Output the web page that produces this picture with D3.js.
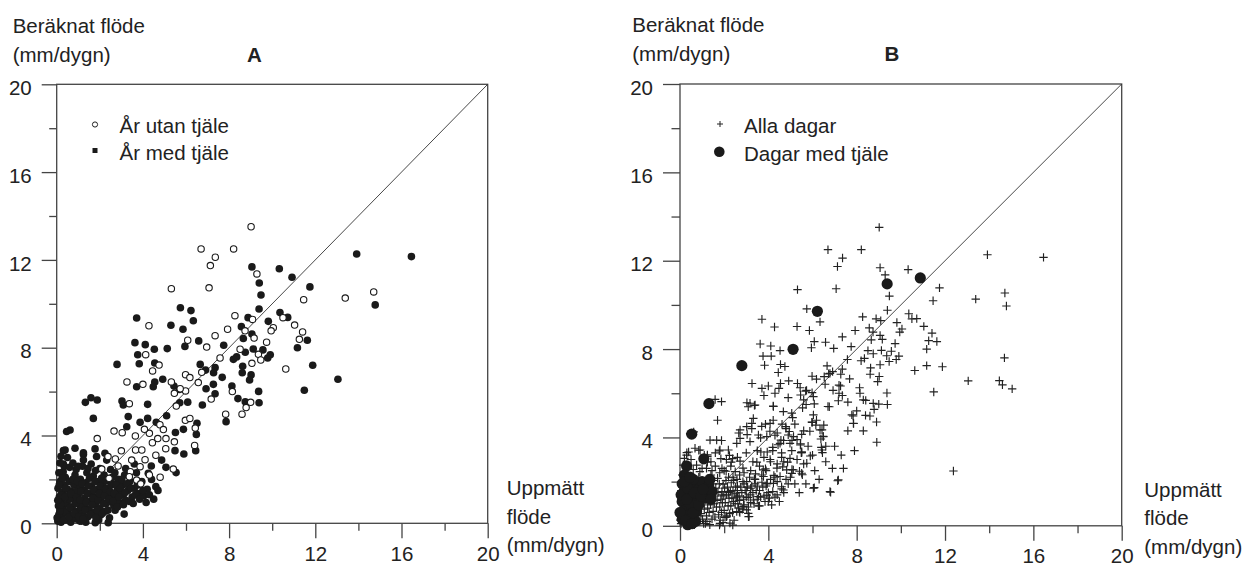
<!DOCTYPE html>
<meta charset="utf-8">
<script src="https://d3js.org/d3.v7.min.js"></script>
<style>
  body { margin: 0; background: #fff; }
  text { font-family: "Liberation Sans", Arial, sans-serif; fill: #222; }
</style>
<div id="chart"></div>
<script>

// ticks
var majorTicks = [0, 4, 8, 12, 16, 20];
var minorTicks = [2, 6, 10, 14, 18];

// A: years without frost (open circles)  [uppmätt, beräknat]
var utanTjale = [[9.02,13.51],[6.70,12.50],[8.21,12.50],[7.36,12.12],[7.13,11.74],[9.29,11.36],[5.32,10.69],[7.07,10.73],
 [13.39,10.26],[14.71,10.54],[11.46,10.19],[4.28,9.00],[8.27,9.46],[9.09,9.29],[7.93,8.84],[8.74,8.77],[7.35,8.55],
 [9.16,8.44],[6.08,8.34],[6.96,8.03],[8.51,7.93],[4.13,7.68],[4.75,7.21],[7.58,7.53],[9.36,7.70],[9.47,7.44],[9.06,7.29],
 [9.74,8.25],[10.05,8.91],[9.95,8.77],[10.50,9.37],[11.04,9.03],[11.41,8.72],[11.26,8.38],[10.63,7.03],
 [7.84,4.97],[8.60,4.97],[8.79,5.27],[9.00,5.51],[8.15,6.00],[7.17,5.66],[6.57,6.41],[6.73,6.88],[5.98,6.77],[6.18,6.64],
 [5.98,6.03],[5.73,6.13],[5.46,5.92],[5.32,6.44],[5.55,5.34],[3.37,5.45],[4.45,6.94],[3.26,6.44],[4.00,6.33],[5.97,4.69],
 [6.18,4.78],[6.43,4.34],[6.40,3.55],[4.79,4.49],[4.95,4.27],[4.30,4.10],[4.07,4.28],[3.65,3.98],[3.04,4.13],[2.66,4.20],
 [1.88,3.86],[4.44,3.67],[4.69,3.86],[5.07,3.86],[5.06,3.40],[5.46,3.71],[3.66,3.34],[3.95,3.34],[2.72,2.93],[2.85,2.61],
 [2.38,3.04],[3.42,2.35],[3.87,2.58],[5.41,2.47],[2.43,2.05],[2.09,2.47],[3.48,2.88],[3.37,2.12],[3.71,1.97],
 [4.10,2.90],[4.60,3.10],[4.30,2.20],[3.00,3.30],[4.80,2.10],[3.90,1.80]];

// A: years with frost (filled)
var medTjale = [[13.92,12.27],[16.46,12.15],[9.06,11.68],[10.33,11.60],[10.92,11.21],[9.40,10.95],[11.75,10.77],[9.48,10.40],
 [14.78,9.95],[9.39,9.76],[5.74,9.82],[6.23,9.69],[6.34,9.23],[3.71,9.35],[5.30,9.02],[5.86,8.84],[8.88,9.37],[8.57,8.96],
 [10.36,9.60],[10.72,9.38],[9.82,9.20],[9.06,8.62],[8.66,8.42],[3.63,8.23],[4.11,8.14],[4.53,7.93],[5.13,7.96],[5.95,8.06],
 [6.59,8.31],[7.75,8.11],[9.12,7.94],[9.57,7.90],[8.75,7.79],[3.76,7.68],[3.83,7.27],[2.80,7.24],[4.55,7.30],[6.66,7.24],
 [7.35,7.09],[8.20,7.47],[8.35,7.58],[8.63,7.15],[9.79,7.53],[9.91,7.68],[11.17,8.00],[11.63,8.34],[11.88,7.20],[6.91,6.98],
 [13.05,6.56],[11.49,6.06],[3.71,6.22],[4.55,6.44],[4.48,6.22],[4.92,6.56],[5.44,6.25],[5.69,6.10],[7.28,6.86],[7.68,6.65],
 [7.27,6.33],[6.93,6.13],[7.35,5.90],[8.61,6.86],[9.02,6.76],[8.95,6.53],[8.13,6.25],[9.37,6.01],[8.41,5.68],[8.75,5.54],
 [9.39,5.49],[7.86,4.63],[6.76,5.39],[6.08,5.52],[5.71,5.49],[4.22,5.42],[3.03,5.57],[3.09,5.39],[1.33,5.51],[1.59,5.72],
 [1.88,5.62],[1.70,4.78],[3.32,4.86],[4.22,4.78],[4.62,4.60],[5.10,4.90],[3.87,4.60],[3.25,4.40],[5.88,4.28],[5.51,4.14],
 [6.51,4.56],[6.48,4.05],[6.45,3.31],[5.90,3.16],[5.49,3.31],[4.87,2.88],[5.07,2.55],[5.54,2.31],[4.60,1.67],[4.25,2.28],
 [4.39,2.61],[3.09,1.29],[3.13,0.42],[2.39,0.03],[1.79,0.03],[2.04,0.38],[1.07,0.10],[2.71,0.60],[0.62,4.25],[0.46,4.18],
 [0.31,3.31],[0.85,3.42],[1.24,3.14],[1.78,3.39],[0.31,2.70],[1.24,3.21],[1.24,2.88],[1.85,3.04],[2.24,3.19],[2.32,2.88],
 [0.39,3.34],
 [0.05,0.10],[0.10,0.40],[0.08,0.80],[0.12,1.20],[0.06,1.60],[0.15,1.90],[0.20,0.05],[0.25,0.30],[0.30,0.70],[0.22,1.00],
 [0.28,1.40],[0.35,1.75],[0.40,2.10],[0.45,0.15],[0.50,0.50],[0.48,0.90],[0.55,1.25],[0.50,1.55],[0.60,1.90],[0.65,0.05],
 [0.70,0.35],[0.72,0.75],[0.78,1.10],[0.70,1.45],[0.80,1.75],[0.85,2.20],[0.90,0.20],[0.95,0.55],[0.98,0.95],[1.00,1.30],
 [1.05,1.60],[1.10,2.00],[1.15,0.10],[1.20,0.45],[1.25,0.80],[1.30,1.15],[1.28,1.50],[1.35,1.85],[1.40,2.30],[1.45,0.30],
 [1.50,0.65],[1.55,1.00],[1.60,1.35],[1.62,1.70],[1.70,2.15],[1.75,0.50],[1.80,0.85],[1.85,1.20],[1.90,1.55],[1.95,1.90],
 [2.00,0.70],[2.05,1.05],[2.10,1.40],[2.15,1.75],[2.20,2.20],[2.25,0.55],[2.30,0.90],[2.35,1.25],[2.40,1.60],[2.50,1.00],
 [2.55,1.35],[2.60,1.80],[2.65,0.80],[2.70,1.15],[2.80,1.50],[2.85,2.00],[2.90,0.95],[3.00,1.30],[3.05,1.75],[3.15,2.20],
 [3.20,1.05],[3.30,1.50],[3.40,1.90],[3.50,1.20],[3.60,1.60],[3.70,2.30],[3.80,1.35],[3.95,1.90],[4.05,1.25],[4.20,1.55],
 [4.40,2.00],[4.50,1.10],[4.70,1.50],[1.20,2.60],[0.90,2.45],[0.30,2.35],[2.00,2.50],[2.50,2.45],[0.10,2.30],[1.60,2.70],
 [0.20,1.30],[0.40,0.50],[0.60,1.10],[0.90,1.45],[0.15,0.55],[1.10,0.75],[1.35,0.05],[2.45,0.25],[1.95,0.15],
 [0.02,0.25],[0.18,0.85],[0.05,1.05],[0.12,1.75],[0.25,2.05],[0.32,0.15],[0.38,1.20],[0.42,1.60],[0.58,0.30],[0.62,0.72],
 [0.66,1.35],[0.75,2.00],[0.82,0.45],[0.88,0.90],[0.92,1.20],[0.95,1.90],[1.02,0.30],[1.08,1.05],[1.12,1.45],[1.18,1.80],
 [1.22,0.20],[1.32,0.60],[1.38,0.95],[1.42,1.35],[1.48,1.70],[1.52,2.05],[1.58,0.40],[1.65,0.85],[1.68,1.15],[1.72,1.50],
 [1.78,1.90],[1.82,0.25],[1.88,0.60],[1.92,1.05],[1.98,1.35],[2.02,1.70],[2.08,2.05],[2.12,0.45],[2.18,0.90],[2.22,1.25],
 [2.28,1.55],[2.32,1.95],[2.38,0.60],[2.42,1.10],[2.48,1.45],[2.52,1.75],[2.58,2.10],[2.62,1.00],[2.68,1.35],[2.75,1.75],
 [2.82,0.75],[2.88,1.20],[2.95,1.60],[3.02,2.00],[3.10,0.85],[3.18,1.40],[3.25,1.80],[3.35,1.00],[3.45,1.60],[3.55,0.90],
 [3.65,1.30],[3.75,1.75],[3.85,1.10],[4.00,1.50],[4.15,0.95],[4.30,1.30],[0.35,2.60],[0.60,2.55],[0.15,2.75],[0.50,3.00],
 [0.20,3.05],[0.75,2.75],[1.00,2.60],[1.45,2.50],[1.80,2.40],[2.70,2.30],[3.20,2.50],[3.60,2.70]];

// B: days only shown as crosses in B
var extraDagar = [[14.69,7.60],[12.38,2.48],[8.91,3.78],[14.46,6.57],[14.60,6.38],[15.04,6.20],[11.17,7.25],[6.08,1.73],
 [6.82,1.52],[7.14,2.04],[6.04,5.85],[6.53,6.75],[6.79,6.90],[7.20,6.37],[7.20,6.00],[5.99,4.68],[6.15,4.56],[6.34,4.34],
 [6.38,3.93],[5.51,3.31],[5.45,3.66],[5.14,4.04],[4.90,4.11],[4.57,3.88],[4.20,3.55],[4.65,2.67],[4.83,2.53],[5.06,2.37],
 [3.78,2.23],[3.93,1.92],[4.60,1.77],[3.55,1.32],[3.02,0.72],[3.10,0.41],[2.69,0.64],[2.26,0.12],[7.60,4.30],[7.30,3.20],
 [6.90,2.60],[8.30,4.30],[8.00,5.20],[6.60,3.60],[5.20,1.90],[5.60,2.80],
 [1.66,3.88],[2.19,3.43],[2.57,3.73],[2.72,4.34],[3.02,4.49],[3.25,4.64],[4.08,4.64],[4.53,3.73],[4.98,3.73],[5.51,3.35],
 [5.74,2.83],[5.13,2.53],[4.53,2.23],[4.23,1.92],[4.68,1.62],[3.93,1.39],[3.32,1.17],[2.87,0.87],[2.57,0.64],[2.11,0.41],
 [1.81,0.11],[3.09,0.56],[3.17,5.55],[3.40,5.47],[4.23,5.40],[4.68,5.17],[5.06,5.10],[6.04,5.02],[6.49,4.04],[6.42,3.43],
 [7.78,5.02],[7.85,4.64],[7.17,2.08],[6.79,1.55],[6.04,1.70],[5.51,2.38],[4.98,3.05],[4.08,3.00],[3.77,2.53],[2.72,3.96],
 [3.17,3.81],[3.55,4.11],[3.93,4.04],[1.81,3.43],[0.91,3.43],[0.68,3.51],[1.36,3.88],[0.30,3.20],
 [2.30,2.70],[2.60,3.10],[2.90,2.40],[3.30,2.90],[3.50,3.40],[3.80,3.10],[4.20,3.40],[4.40,2.80],[4.70,2.90],[5.00,2.20],
 [5.30,3.00],[5.80,3.60],[6.10,2.50],[6.60,2.90],[7.00,3.60],[5.60,4.30],[5.20,4.60],[4.80,4.40],[4.40,4.20],[3.70,4.50],
 [2.40,2.20],[2.90,1.90],[3.40,2.10],[3.90,2.50],[4.10,2.10],[4.90,1.90],[5.40,1.50],[3.60,0.90],[4.00,1.10],[4.40,1.40],
 [2.20,1.50],[2.60,1.30],[3.00,1.60],[3.50,1.80],[1.90,2.60],[1.40,2.90],[1.10,3.20],[2.10,3.00],[1.60,3.30],[4.60,3.30],
 [5.30,3.90],[6.00,3.20],[6.30,2.10],[5.70,1.90],[7.40,2.60],[7.90,3.40],[8.40,5.00],[8.90,4.70],[8.30,5.70],[7.60,5.60],
 [6.70,5.40],[5.60,5.70],[4.90,5.80],[4.30,6.00],[3.80,5.90],[1.90,1.40],[1.50,1.90],[2.60,1.60],[3.20,1.70]];

// B: days with frost (large dots)
var tjaleDagar = [[2.80,7.25],[5.12,7.99],[6.22,9.71],[9.38,10.95],[10.88,11.22],[1.31,5.53],[0.53,4.15],[1.08,3.03],
 [0.30,2.71],[0.20,2.30],[0.10,1.90],[0.15,1.50],[0.10,1.10],[0.20,0.70],[0.10,0.30],[0.35,0.05],[0.40,0.50],[0.45,1.00],
 [0.50,1.40],[0.55,1.80],[0.70,0.20],[0.75,0.65],[0.80,1.20],[0.90,1.70],[1.00,2.00],[1.15,1.25],[1.20,1.55],
 [1.30,1.80],[1.45,1.55],[1.35,2.10],[0.60,2.10],[0.00,0.60],[0.05,1.40],[0.25,0.25],[0.30,1.20],[0.35,1.70],[0.60,0.60],
 [0.65,1.50],[0.85,0.95],[0.95,1.35],[1.40,1.20],[1.05,1.65],[0.20,2.00],[0.45,2.20],[0.55,0.10]];

var allaDagar = medTjale.concat(utanTjale, extraDagar);

var svg = d3.select("#chart").append("svg")
  .attr("width", 1246).attr("height", 568);

function panel(box) {
  var g = svg.append("g");
  var x = d3.scaleLinear().domain([0, 20]).range([box.left, box.right]);
  var y = d3.scaleLinear().domain([0, 20]).range([box.bottom, box.top]);

  // minor ticks
  g.append("g").attr("transform", "translate(0," + box.bottom + ")")
    .call(d3.axisBottom(x).tickValues(minorTicks).tickSize(7.5).tickFormat(""));
  g.append("g").attr("transform", "translate(" + box.left + ",0)")
    .call(d3.axisLeft(y).tickValues(minorTicks).tickSize(box.tick / 2).tickFormat(""));
  // major ticks
  g.append("g").attr("class", "xa").attr("transform", "translate(0," + box.bottom + ")")
    .call(d3.axisBottom(x).tickValues(majorTicks).tickSize(15).tickPadding(8));
  g.append("g").attr("class", "ya").attr("transform", "translate(" + box.left + ",0)")
    .call(d3.axisLeft(y).tickValues(majorTicks).tickSize(box.tick).tickPadding(10));

  g.selectAll(".domain").remove();
  g.selectAll(".tick line").attr("stroke", "#444").attr("stroke-width", 1.3);
  g.selectAll(".tick text").attr("font-size", 20.5).attr("fill", "#222")
    .attr("font-family", "Liberation Sans, Arial, sans-serif");
  g.selectAll(".ya .tick text").attr("dy", "0.5em");

  // frame
  g.append("rect")
    .attr("x", box.left).attr("y", box.top)
    .attr("width", box.right - box.left).attr("height", box.bottom - box.top)
    .attr("fill", "none").attr("stroke", "#444").attr("stroke-width", 1.3);

  // 1:1 line
  g.append("line")
    .attr("x1", x(0)).attr("y1", y(0)).attr("x2", x(20)).attr("y2", y(20))
    .attr("stroke", "#333").attr("stroke-width", 0.9);

  // labels
  var t = g.append("g").attr("font-size", 20.5);
  t.append("text").attr("x", box.tx).attr("y", box.ty).text("Beräknat flöde");
  t.append("text").attr("x", box.tx).attr("y", box.ty + 28.6).text("(mm/dygn)");
  t.append("text").attr("x", box.cx).attr("y", box.ty + 28.6).attr("text-anchor", "middle")
    .attr("font-weight", "bold").text(box.id);
  ["Uppmätt", "flöde", "(mm/dygn)"].forEach(function(s, i) {
    t.append("text").attr("x", box.ux).attr("y", box.uy + i * 28.6).text(s);
  });

  return {g: g, x: x, y: y};
}

// panel A
var A = panel({id: "A", left: 56.7, right: 487.7, top: 84.3, bottom: 523.3, tick: 15,
  tx: 12.7, ty: 33, cx: 254.5, ux: 506.7, uy: 495});

A.g.append("g").selectAll("circle").data(medTjale).enter().append("circle")
  .attr("cx", function(d) { return A.x(d[0]); })
  .attr("cy", function(d) { return A.y(d[1]); })
  .attr("r", 3.8).attr("fill", "#1a1a1a");

A.g.append("g").selectAll("circle").data(utanTjale).enter().append("circle")
  .attr("cx", function(d) { return A.x(d[0]); })
  .attr("cy", function(d) { return A.y(d[1]); })
  .attr("r", 3.2).attr("fill", "#fff").attr("stroke", "#1a1a1a").attr("stroke-width", 1.1);

// legend A
A.g.append("circle").attr("cx", 95).attr("cy", 124.5).attr("r", 2.6)
  .attr("fill", "#fff").attr("stroke", "#222").attr("stroke-width", 1);
A.g.append("rect").attr("x", 92.5).attr("y", 148).attr("width", 5).attr("height", 5).attr("fill", "#1a1a1a");
A.g.append("text").attr("x", 119.5).attr("y", 132.7).attr("font-size", 20.5).text("År utan tjäle");
A.g.append("text").attr("x", 119.5).attr("y", 160).attr("font-size", 20.5).text("År med tjäle");

// panel B
var B = panel({id: "B", left: 680, right: 1121.7, top: 84, bottom: 525.8, tick: 17,
  tx: 632.3, ty: 32, cx: 892, ux: 1144.3, uy: 496.5});

B.g.append("g").selectAll("path").data(allaDagar).enter().append("path")
  .attr("d", function(d) {
    var cx = B.x(d[0]), cy = B.y(d[1]);
    return "M" + (cx - 4.2) + "," + cy + "H" + (cx + 4.2) + "M" + cx + "," + (cy - 4.2) + "V" + (cy + 4.2);
  })
  .attr("stroke", "#222").attr("stroke-width", 1.15).attr("fill", "none");

B.g.append("g").selectAll("circle").data(tjaleDagar).enter().append("circle")
  .attr("cx", function(d) { return B.x(d[0]); })
  .attr("cy", function(d) { return B.y(d[1]); })
  .attr("r", 5.6).attr("fill", "#1a1a1a");

// legend B
B.g.append("path").attr("d", "M717,124H723M720,121V127").attr("stroke", "#222").attr("stroke-width", 1);
B.g.append("circle").attr("cx", 719.3).attr("cy", 151.7).attr("r", 5.3).attr("fill", "#1a1a1a");
B.g.append("text").attr("x", 744).attr("y", 133.3).attr("font-size", 20.5).text("Alla dagar");
B.g.append("text").attr("x", 744).attr("y", 160.7).attr("font-size", 20.5).text("Dagar med tjäle");

</script>
